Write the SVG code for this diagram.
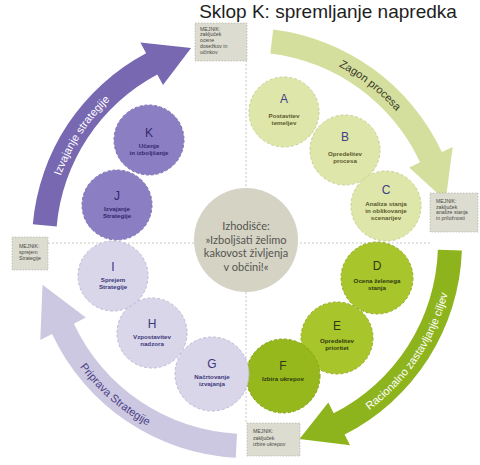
<svg xmlns="http://www.w3.org/2000/svg" width="480" height="465" viewBox="0 0 480 465">
<style>
.guide{stroke:#b9b9b0;stroke-width:0.8;stroke-dasharray:2 2;fill:none}
.ms rect{fill:#dcdcd1;stroke:#a9a99f;stroke-width:0.6;stroke-dasharray:1.5 1.5}
.ms text{font-family:"Liberation Sans",Arial,sans-serif;font-size:5.2px;fill:#4a4a44}
.c circle{stroke-width:1;stroke-dasharray:3 2}
.lg circle{fill:#dfe6a9;stroke:#c6cf8c}
.bg circle{fill:#a9c52c;stroke:#93ad22}
.bgd circle{fill:#97b81c;stroke:#85a317}
.pu circle{fill:#8b7ec2;stroke:#7a6db3}
.lv circle{fill:#dad6ea;stroke:#bdb8d4}
.c text{font-family:"Liberation Sans",Arial,sans-serif;text-anchor:middle}
.c .L{font-size:12px}
.c .t{font-size:6.2px;font-weight:bold}
.lg text{fill:#3e4088}
.lg .t{fill:#5a5a2e}
.bg text,.bgd text{fill:#2e3a10}
.pu text{fill:#33286e}
.lv text{fill:#3a3879}
.arrow{stroke:none}
.atext{font-family:"Liberation Sans",Arial,sans-serif;font-size:11px;text-anchor:middle}
</style>
<defs>
<path id="p1" d="M 274.7 45.9 A 199 199 0 0 1 431.5 168.5"/>
<path id="p2" d="M 317.8 437.5 A 207 207 0 0 0 453.9 235.8"/>
<path id="p3" d="M 46.1 296.8 A 208 208 0 0 0 221.6 449.4"/>
<path id="p4" d="M 49.3 232.6 A 198 198 0 0 1 157.1 66.6"/>
</defs>
<rect width="480" height="465" fill="#ffffff"/>
<text x="328" y="18" font-family="'Liberation Sans',Arial,sans-serif" font-size="19" fill="#1e1e1e" text-anchor="middle">Sklop K: spremljanje napredka</text>
<g id="guides">
<line class="guide" x1="246" y1="60" x2="246" y2="423"/>
<line class="guide" x1="48" y1="243" x2="430" y2="243"/>
</g>
<g id="connectors">
<path id="arrow-zagon" class="arrow" fill="#d5df9d" d="M 273.2 29.6 A 215 215 0 0 1 441.9 152.1 L 452.7 147.1 L 445.6 200.8 L 409.2 167.4 L 420.1 162.3 A 191 191 0 0 0 270.3 53.4 Z"/>
<path id="arrow-racionalno" class="arrow" fill="#8db41d" d="M 461.9 250.5 A 215 215 0 0 1 344.6 434.6 L 350.1 445.3 L 299.5 439.1 L 328.3 402.5 L 333.7 413.2 A 191 191 0 0 0 437.9 249.7 Z"/>
<path id="arrow-priprava" class="arrow" fill="#cdc8e1" d="M 235.8 457.7 A 215 215 0 0 1 52.1 333.9 L 40.3 339.9 L 42.5 284.8 L 85.8 317.6 L 73.9 323.7 A 191 191 0 0 0 237.0 433.7 Z"/>
<path id="arrow-izvajanje" class="arrow" fill="#7867b1" d="M 32.8 224.3 A 215 215 0 0 1 146.1 53.2 L 140.4 42.6 L 191.1 47.9 L 163.0 85.0 L 157.3 74.4 A 191 191 0 0 0 56.7 226.4 Z"/>
<text class="atext" fill="#3a3a2a"><textPath href="#p1" startOffset="50%">Zagon procesa</textPath></text>
<text class="atext" fill="#ffffff"><textPath href="#p2" startOffset="50%">Racionalno zastavljanje ciljev</textPath></text>
<text class="atext" fill="#4a3f86"><textPath href="#p3" startOffset="50%">Priprava Strategije</textPath></text>
<text class="atext" fill="#ffffff"><textPath href="#p4" startOffset="50%">Izvajanje strategije</textPath></text>
</g>
<g id="ms-top" class="ms">
<rect x="195" y="23" width="52" height="38"/>
<text x="200" y="30.5">MEJNIK:</text>
<text x="200" y="36.3">zaključek</text>
<text x="200" y="42.1">ocene</text>
<text x="200" y="47.9">dosežkov in</text>
<text x="200" y="53.7">učinkov</text>
</g>
<g id="ms-right" class="ms">
<rect x="430" y="193" width="48" height="39"/>
<text x="436" y="203">MEJNIK:</text>
<text x="436" y="208.5">zaključek</text>
<text x="436" y="214">analize stanja</text>
<text x="436" y="219.5">in priložnosti</text>
</g>
<g id="ms-left" class="ms">
<rect x="12" y="237" width="36" height="33"/>
<text x="19" y="248">MEJNIK:</text>
<text x="19" y="254">sprejem</text>
<text x="19" y="260">Strategije</text>
</g>
<g id="ms-bottom" class="ms">
<rect x="247" y="423" width="53" height="33"/>
<text x="253" y="433">MEJNIK:</text>
<text x="253" y="439.5">zaključek</text>
<text x="253" y="446">izbire ukrepov</text>
</g>
<g id="center">
<circle cx="246" cy="240" r="52" fill="#d4d3c4"/>
<g font-family="Lato,'Open Sans','Liberation Sans',sans-serif" font-size="11" fill="#555550" text-anchor="middle">
<text x="246" y="230">Izhodišče:</text>
<text x="246" y="243.5">»Izboljšati želimo</text>
<text x="246" y="257">kakovost življenja</text>
<text x="246" y="270.5">v občini!«</text>
</g>
</g>
<g id="node-A" class="c lg"><circle cx="284" cy="112" r="35"/><text class="L" x="284" y="103">A</text><text class="t" x="284" y="118">Postavitev</text><text class="t" x="284" y="125">temeljev</text></g>
<g id="node-B" class="c lg"><circle cx="345" cy="150" r="35"/><text class="L" x="345" y="141">B</text><text class="t" x="345" y="156">Opredelitev</text><text class="t" x="345" y="163">procesa</text></g>
<g id="node-C" class="c lg"><circle cx="386" cy="206" r="35"/><text class="L" x="386" y="194">C</text><text class="t" x="386" y="206">Analiza stanja</text><text class="t" x="386" y="213">in oblikovanje</text><text class="t" x="386" y="220">scenarijev</text></g>
<g id="node-D" class="c bg"><circle cx="377" cy="278" r="36"/><text class="L" x="377" y="270">D</text><text class="t" x="377" y="283">Ocena želenega</text><text class="t" x="377" y="290">stanja</text></g>
<g id="node-E" class="c bg"><circle cx="337" cy="338" r="36"/><text class="L" x="337" y="330">E</text><text class="t" x="337" y="343">Opredelitev</text><text class="t" x="337" y="350">prioritet</text></g>
<g id="node-F" class="c bgd"><circle cx="283" cy="376" r="37"/><text class="L" x="283" y="370">F</text><text class="t" x="283" y="381">Izbira ukrepov</text></g>
<g id="node-G" class="c lv"><circle cx="212" cy="374" r="37"/><text class="L" x="212" y="368">G</text><text class="t" x="212" y="379">Načrtovanje</text><text class="t" x="212" y="386">izvajanja</text></g>
<g id="node-H" class="c lv"><circle cx="152" cy="333" r="35"/><text class="L" x="152" y="328">H</text><text class="t" x="152" y="339">Vzpostavitev</text><text class="t" x="152" y="346">nadzora</text></g>
<g id="node-I" class="c lv"><circle cx="113" cy="276" r="35"/><text class="L" x="113" y="271">I</text><text class="t" x="113" y="282">Sprejem</text><text class="t" x="113" y="289">Strategije</text></g>
<g id="node-J" class="c pu"><circle cx="117" cy="205" r="35"/><text class="L" x="117" y="200">J</text><text class="t" x="117" y="211">Izvajanje</text><text class="t" x="117" y="218">Strategije</text></g>
<g id="node-K" class="c pu"><circle cx="149" cy="140" r="35"/><text class="L" x="149" y="137">K</text><text class="t" x="149" y="148">Učenje</text><text class="t" x="149" y="155">in izboljšanje</text></g>
</svg>
